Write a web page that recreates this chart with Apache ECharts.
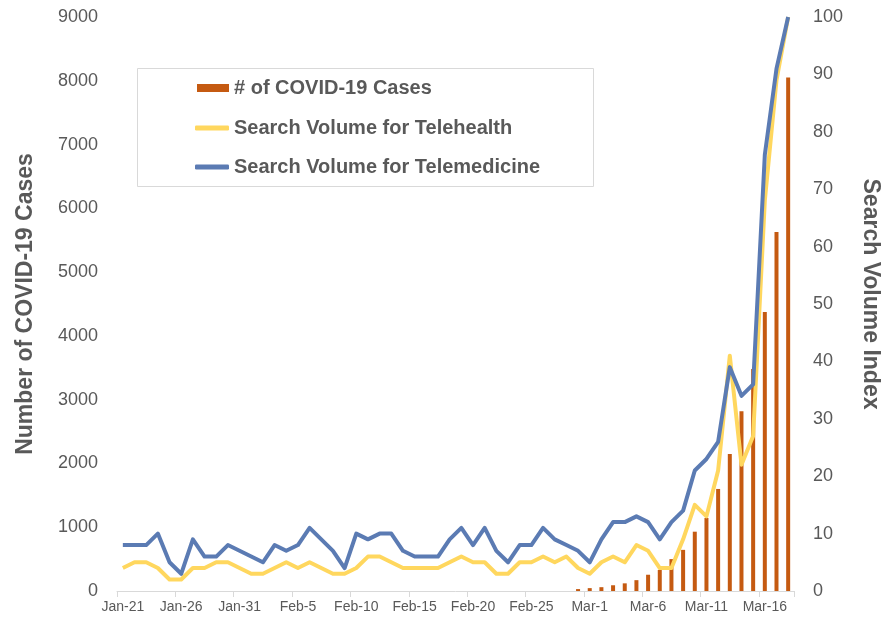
<!DOCTYPE html>
<html>
<head>
<meta charset="utf-8">
<script src="https://cdn.jsdelivr.net/npm/echarts@6/dist/echarts.min.js"></script>
<style>
html,body{margin:0;padding:0;background:#fff;}
#chart{width:881px;height:621px;}
</style>
</head>
<body>
<div id="chart"></div>
<script>
const categories = [
  'Jan-21','Jan-22','Jan-23','Jan-24','Jan-25','Jan-26','Jan-27','Jan-28','Jan-29','Jan-30','Jan-31',
  'Feb-1','Feb-2','Feb-3','Feb-4','Feb-5','Feb-6','Feb-7','Feb-8','Feb-9','Feb-10',
  'Feb-11','Feb-12','Feb-13','Feb-14','Feb-15','Feb-16','Feb-17','Feb-18','Feb-19','Feb-20',
  'Feb-21','Feb-22','Feb-23','Feb-24','Feb-25','Feb-26','Feb-27','Feb-28','Feb-29',
  'Mar-1','Mar-2','Mar-3','Mar-4','Mar-5','Mar-6','Mar-7','Mar-8','Mar-9','Mar-10',
  'Mar-11','Mar-12','Mar-13','Mar-14','Mar-15','Mar-16','Mar-17','Mar-18'
];
const covidCases = [
  0,0,0,0,0,0,0,0,0,0,
  0,0,0,0,0,0,0,0,0,0,
  0,0,0,0,0,0,0,0,0,0,
  0,0,0,0,0,0,0,0,0,30,
  45,60,90,120,170,255,330,500,645,930,
  1145,1600,2150,2820,3480,4375,5630,8050
];
const telehealth = [
  4,5,5,4,2,2,4,4,5,5,
  4,3,3,4,5,4,5,4,3,3,
  4,6,6,5,4,4,4,4,5,6,
  5,5,3,3,5,5,6,5,6,4,
  3,5,6,5,8,7,4,4,9,15,
  13,21,41,22,27,68,89,100
];
const telemedicine = [
  8,8,8,10,5,3,9,6,6,8,
  7,6,5,8,7,8,11,9,7,4,
  10,9,10,10,7,6,6,6,9,11,
  8,11,7,5,8,8,11,9,8,7,
  5,9,12,12,13,12,9,12,14,21,
  23,26,39,34,36,76,91,100
];
const seriesNames = ['# of COVID-19 Cases','Search Volume for Telehealth','Search Volume for Telemedicine'];

const FONT = '"Liberation Sans", Arial, sans-serif';
const GREY = '#595959';
const ORANGE = '#C55A11';
const YELLOW = '#FFD75E';
const BLUE = '#5B7BB3';

const chart = echarts.init(document.getElementById('chart'), null, {renderer:'canvas'});
const legendText = {fontFamily: FONT, fontSize: 20, fontWeight: 'bold', color: GREY, lineHeight: 22};
chart.setOption({
  animation: false,
  backgroundColor: '#fff',
  textStyle: {fontFamily: FONT},
  graphic: [{
    type: 'rect', left: 137, top: 68, z: -1,
    shape: {width: 456, height: 118},
    style: {fill: '#fff', stroke: '#D9D9D9', lineWidth: 1}
  }],
  legend: [
    {data: [seriesNames[0]], left: 197, top: 77, padding: 0, itemWidth: 32, itemHeight: 8, itemGap: 0, icon: 'rect', textStyle: legendText, selectedMode: false},
    {data: [seriesNames[1]], left: 195, top: 117, padding: 0, itemWidth: 34, itemHeight: 5, itemGap: 0, icon: 'roundRect', textStyle: legendText, selectedMode: false},
    {data: [seriesNames[2]], left: 195, top: 156, padding: 0, itemWidth: 34, itemHeight: 5, itemGap: 0, icon: 'roundRect', textStyle: legendText, selectedMode: false}
  ],
  grid: {left: 117, right: 87, top: 17, bottom: 30, containLabel: false, outerBoundsMode: 'none'},
  xAxis: {
    type: 'category',
    data: categories,
    boundaryGap: true,
    axisLine: {show: true, lineStyle: {color: '#D9D9D9', width: 1}},
    axisTick: {show: true, interval: 4, length: 6, lineStyle: {color: '#D9D9D9'}},
    axisLabel: {interval: 4, color: GREY, fontSize: 14, fontFamily: FONT, margin: 9},
    splitLine: {show: false}
  },
  yAxis: [
    {
      type: 'value', min: 0, max: 9000, interval: 1000,
      name: 'Number of COVID-19 Cases', nameLocation: 'middle', nameRotate: 90, nameGap: 80,
      nameTextStyle: {color: GREY, fontSize: 23, fontWeight: 'bold', fontFamily: FONT},
      axisLine: {show: false}, axisTick: {show: false}, splitLine: {show: false},
      axisLabel: {color: GREY, fontSize: 18, fontFamily: FONT, margin: 19, formatter: function (v) { return String(v); }}
    },
    {
      type: 'value', min: 0, max: 100, interval: 10,
      name: 'Search Volume Index', nameLocation: 'middle', nameRotate: -90, nameGap: 65,
      nameTextStyle: {color: GREY, fontSize: 23, fontWeight: 'bold', fontFamily: FONT, padding: [0, 20, 0, 0]},
      axisLine: {show: false}, axisTick: {show: false}, splitLine: {show: false},
      axisLabel: {color: GREY, fontSize: 18, fontFamily: FONT, margin: 19}
    }
  ],
  series: [
    {
      name: seriesNames[0], type: 'bar', yAxisIndex: 0, data: covidCases,
      barWidth: 4, itemStyle: {color: ORANGE}, z: 1
    },
    {
      name: seriesNames[1], type: 'line', yAxisIndex: 1, data: telehealth,
      symbol: 'none', showSymbol: false, lineStyle: {color: YELLOW, width: 4, join: 'round'},
      itemStyle: {color: YELLOW}, z: 3
    },
    {
      name: seriesNames[2], type: 'line', yAxisIndex: 1, data: telemedicine,
      symbol: 'none', showSymbol: false, lineStyle: {color: BLUE, width: 4, join: 'round'},
      itemStyle: {color: BLUE}, z: 4
    }
  ]
});
</script>
</body>
</html>
